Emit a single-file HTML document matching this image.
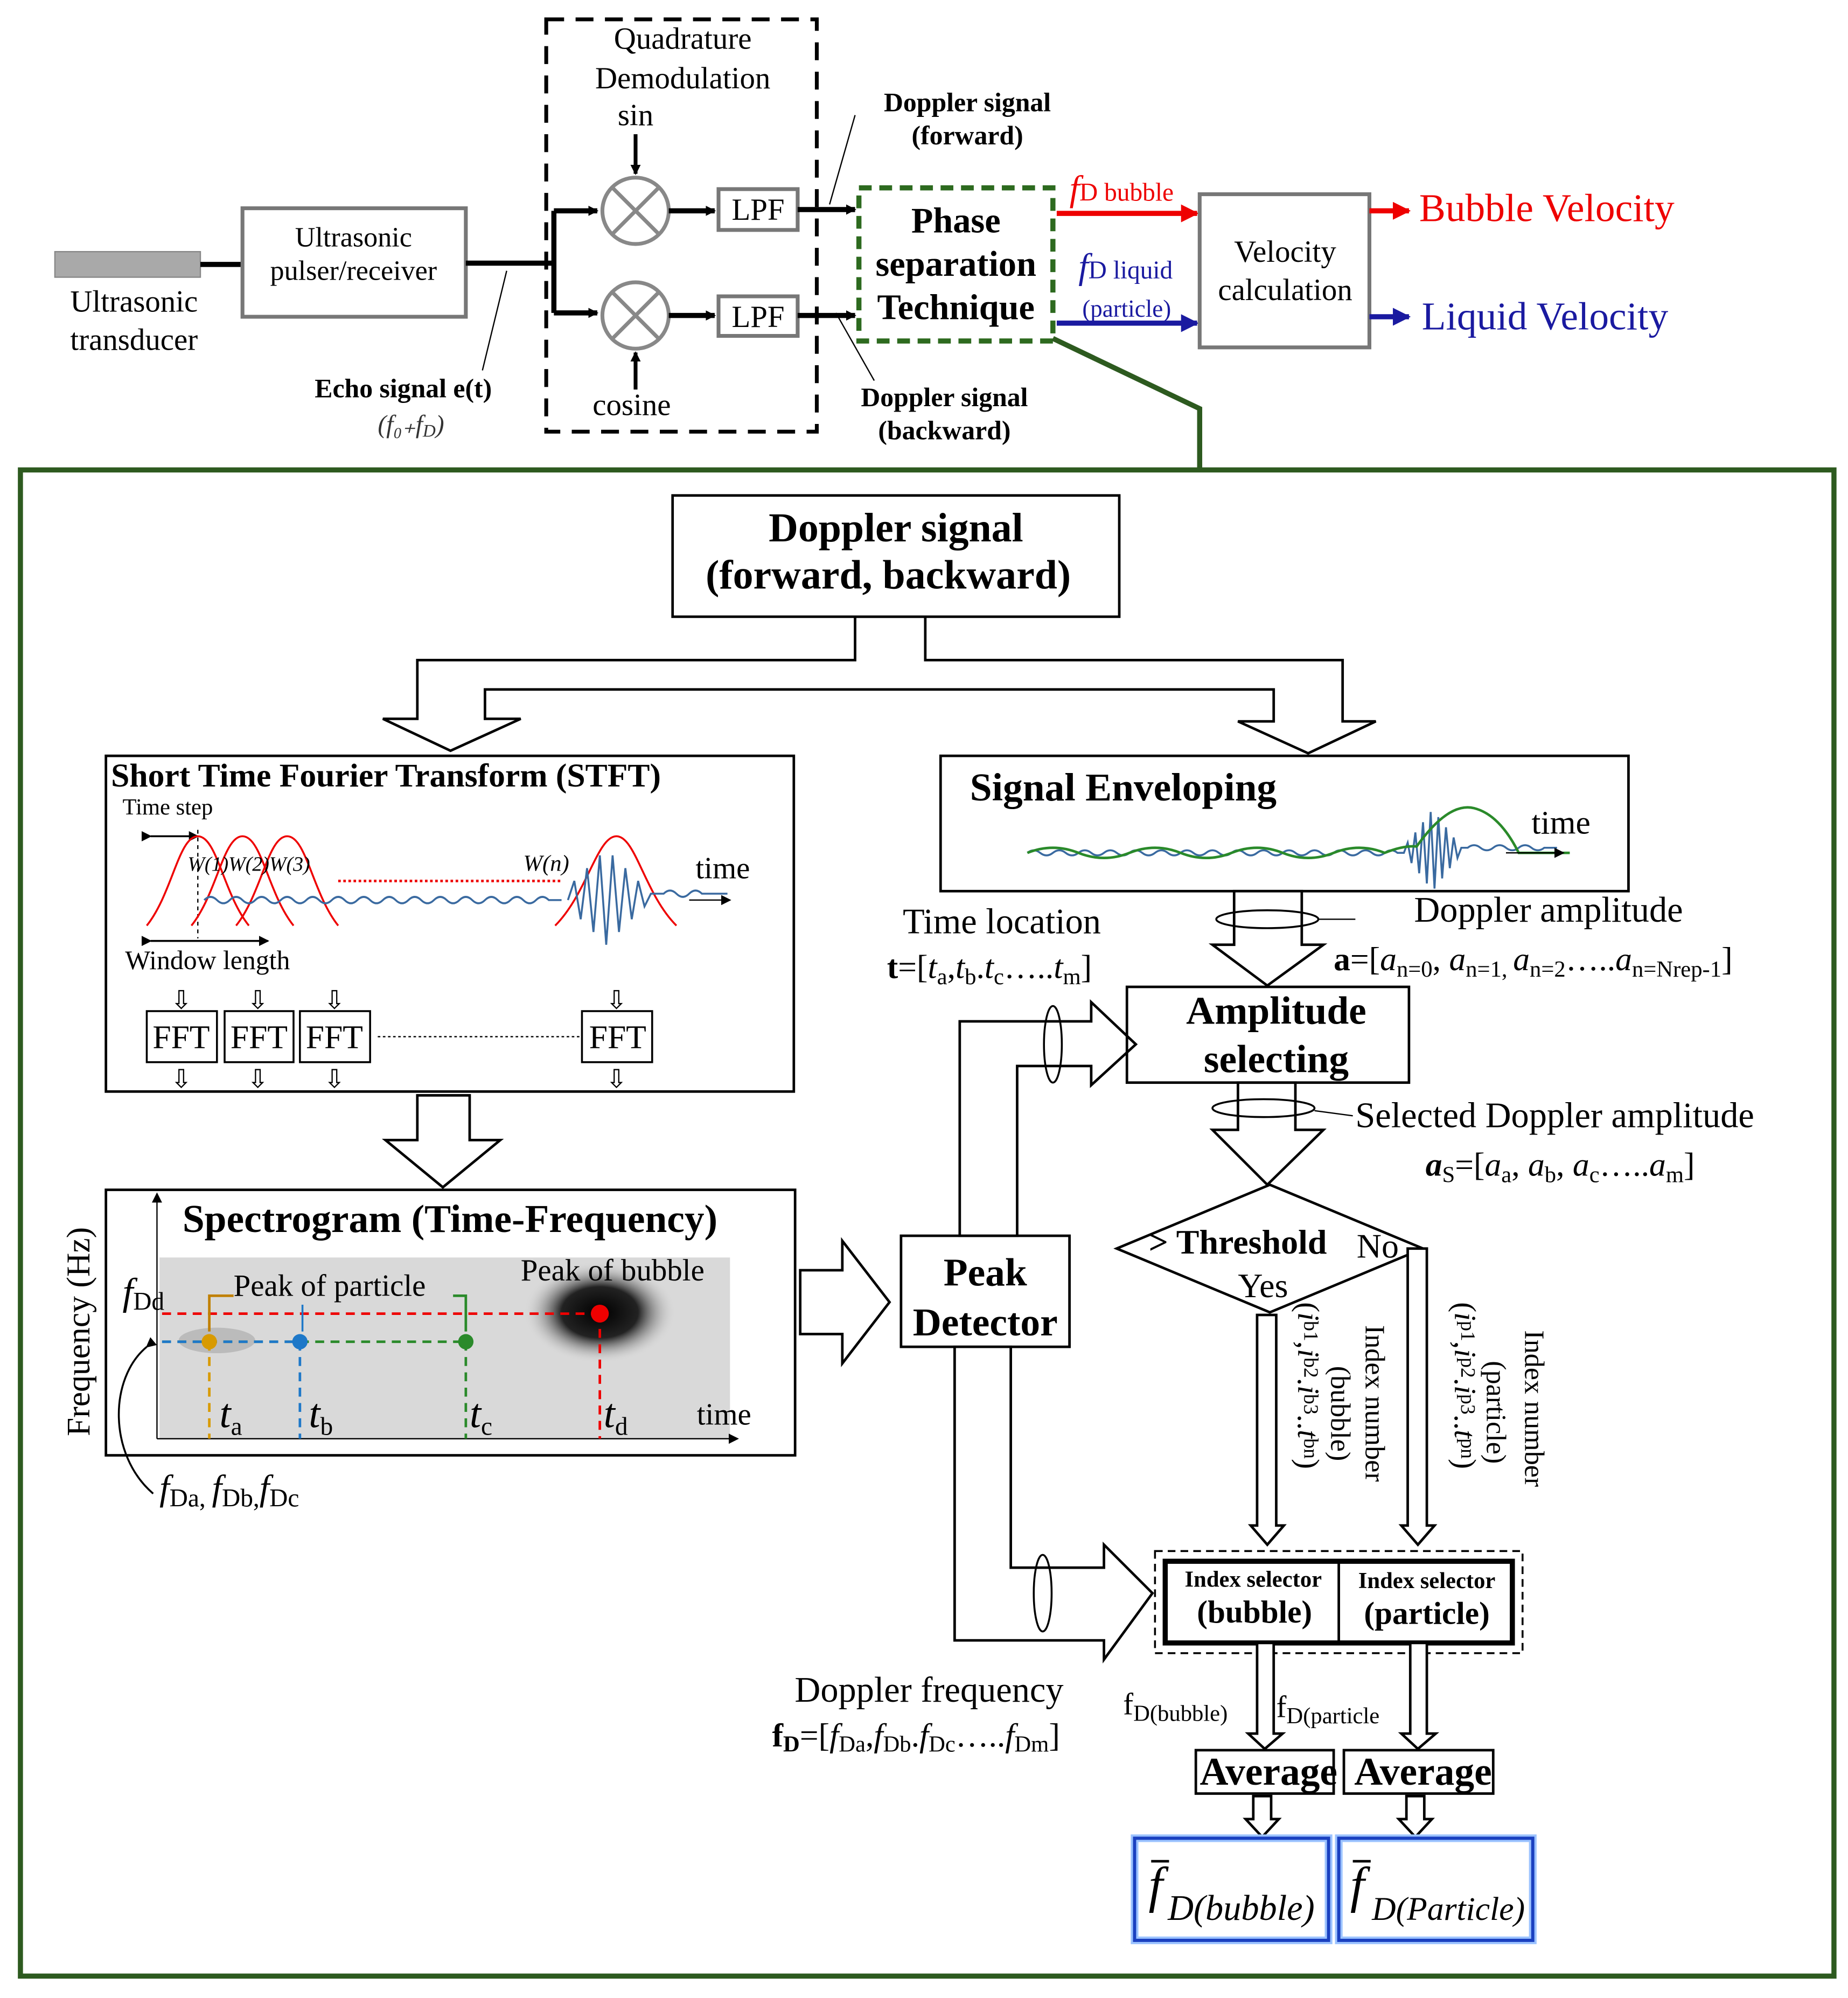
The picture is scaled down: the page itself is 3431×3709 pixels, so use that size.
<!DOCTYPE html>
<html><head><meta charset="utf-8"><style>
html,body{margin:0;padding:0;background:#fff}
svg{display:block}
text{font-family:"Liberation Serif",serif}
</style></head><body>
<svg width="3431" height="3709" viewBox="0 0 1448 1565" xmlns="http://www.w3.org/2000/svg">
<defs>
<marker id="ak" markerWidth="8" markerHeight="8" refX="7" refY="4" orient="auto" markerUnits="userSpaceOnUse"><path d="M0,0 L8,4 L0,8 z" fill="#000"/></marker>
<marker id="ar" viewBox="0 0 10 10" markerWidth="14" markerHeight="14" refX="9" refY="5" orient="auto" markerUnits="userSpaceOnUse"><path d="M0,0 L10,5 L0,10 z" fill="#e00"/></marker>
<marker id="ab" viewBox="0 0 10 10" markerWidth="14" markerHeight="14" refX="9" refY="5" orient="auto" markerUnits="userSpaceOnUse"><path d="M0,0 L10,5 L0,10 z" fill="#1a1aa0"/></marker>
<radialGradient id="blob"><stop offset="0" stop-color="#000"/><stop offset="0.5" stop-color="#222"/><stop offset="1" stop-color="#ddd" stop-opacity="0"/></radialGradient>
</defs>

<!-- TOP -->
<rect x="43" y="197" width="114" height="20" fill="#a9a9a9" stroke="#888"/>
<line x1="157" y1="207" x2="190" y2="207" stroke="#000" stroke-width="4"/>
<text x="105" y="244" font-size="24" text-anchor="middle">Ultrasonic</text>
<text x="105" y="274" font-size="24" text-anchor="middle">transducer</text>
<rect x="190" y="163" width="175" height="85" fill="none" stroke="#777" stroke-width="3"/>
<text x="277" y="193" font-size="22" text-anchor="middle">Ultrasonic</text>
<text x="277" y="219" font-size="22" text-anchor="middle">pulser/receiver</text>
<line x1="365" y1="206" x2="434" y2="206" stroke="#000" stroke-width="4"/>
<line x1="434" y1="165" x2="434" y2="245" stroke="#000" stroke-width="4"/>
<line x1="434" y1="165" x2="468" y2="165" stroke="#000" stroke-width="4" marker-end="url(#ak)"/>
<line x1="434" y1="245" x2="468" y2="245" stroke="#000" stroke-width="4" marker-end="url(#ak)"/>
<line x1="397" y1="212" x2="378" y2="290" stroke="#000" stroke-width="1"/>
<text x="316" y="311" font-size="21" font-weight="bold" text-anchor="middle">Echo signal e(t)</text>
<text x="322" y="339" font-size="20" font-style="italic" text-anchor="middle" fill="#333">(f₀₊f<tspan font-size="14" dy="3">D</tspan><tspan dy="-3">)</tspan></text>

<rect x="428" y="15" width="212" height="323" fill="none" stroke="#000" stroke-width="3" stroke-dasharray="14,9"/>
<text x="535" y="38" font-size="24" text-anchor="middle">Quadrature</text>
<text x="535" y="69" font-size="24" text-anchor="middle">Demodulation</text>
<text x="498" y="98" font-size="24" text-anchor="middle">sin</text>
<line x1="498" y1="105" x2="498" y2="136" stroke="#000" stroke-width="3" marker-end="url(#ak)"/>
<line x1="498" y1="305" x2="498" y2="276" stroke="#000" stroke-width="3" marker-end="url(#ak)"/>
<text x="495" y="325" font-size="24" text-anchor="middle">cosine</text>
<g stroke="#888" stroke-width="3" fill="#fff">
<circle cx="498" cy="165" r="26"/><circle cx="498" cy="247" r="26"/>
<line x1="480" y1="147" x2="516" y2="183"/><line x1="516" y1="147" x2="480" y2="183"/>
<line x1="480" y1="229" x2="516" y2="265"/><line x1="516" y1="229" x2="480" y2="265"/>
</g>
<line x1="524" y1="165" x2="560" y2="165" stroke="#000" stroke-width="4" marker-end="url(#ak)"/>
<line x1="524" y1="247" x2="560" y2="247" stroke="#000" stroke-width="4" marker-end="url(#ak)"/>
<rect x="563" y="148" width="62" height="32" fill="#fff" stroke="#777" stroke-width="3"/>
<rect x="563" y="232" width="62" height="31" fill="#fff" stroke="#777" stroke-width="3"/>
<text x="594" y="172" font-size="24" text-anchor="middle">LPF</text>
<text x="594" y="256" font-size="24" text-anchor="middle">LPF</text>
<line x1="625" y1="164" x2="670" y2="164" stroke="#000" stroke-width="4" marker-end="url(#ak)"/>
<line x1="625" y1="247" x2="670" y2="247" stroke="#000" stroke-width="4" marker-end="url(#ak)"/>
<line x1="670" y1="90" x2="650" y2="160" stroke="#000" stroke-width="1"/>
<line x1="655" y1="245" x2="685" y2="298" stroke="#000" stroke-width="1"/>
<text x="758" y="87" font-size="21" font-weight="bold" text-anchor="middle">Doppler signal</text>
<text x="758" y="113" font-size="21" font-weight="bold" text-anchor="middle">(forward)</text>
<text x="740" y="318" font-size="21" font-weight="bold" text-anchor="middle">Doppler signal</text>
<text x="740" y="344" font-size="21" font-weight="bold" text-anchor="middle">(backward)</text>

<rect x="673" y="147" width="152" height="120" fill="none" stroke="#2d6a1f" stroke-width="4" stroke-dasharray="10,6"/>
<text x="749" y="182" font-size="28" font-weight="bold" text-anchor="middle">Phase</text>
<text x="749" y="216" font-size="28" font-weight="bold" text-anchor="middle">separation</text>
<text x="749" y="250" font-size="28" font-weight="bold" text-anchor="middle">Technique</text>
<polyline points="825,265 940,320 940,368" fill="none" stroke="#2d5a1f" stroke-width="4"/>

<line x1="828" y1="167" x2="938" y2="167" stroke="#e00" stroke-width="4" marker-end="url(#ar)"/>
<text x="838" y="157" font-size="28" fill="#e00" font-style="italic">f<tspan font-size="20" font-style="normal">D bubble</tspan></text>
<line x1="828" y1="253" x2="938" y2="253" stroke="#1a1aa0" stroke-width="4" marker-end="url(#ab)"/>
<text x="845" y="218" font-size="28" fill="#1a1aa0" font-style="italic">f<tspan font-size="20" font-style="normal">D liquid</tspan></text>
<text x="848" y="248" font-size="19" fill="#1a1aa0">(particle)</text>
<rect x="940" y="152" width="133" height="120" fill="none" stroke="#777" stroke-width="3"/>
<text x="1007" y="205" font-size="24" text-anchor="middle">Velocity</text>
<text x="1007" y="235" font-size="24" text-anchor="middle">calculation</text>
<line x1="1073" y1="165" x2="1104" y2="165" stroke="#e00" stroke-width="4" marker-end="url(#ar)"/>
<line x1="1073" y1="248" x2="1104" y2="248" stroke="#1a1aa0" stroke-width="4" marker-end="url(#ab)"/>
<text x="1112" y="173" font-size="31" fill="#e00">Bubble Velocity</text>
<text x="1114" y="258" font-size="31" fill="#1a1aa0">Liquid Velocity</text>

<!-- big box -->
<rect x="16" y="368" width="1421" height="1180" fill="none" stroke="#2d5a1f" stroke-width="4"/>

<rect x="527" y="388" width="350" height="95" fill="none" stroke="#000" stroke-width="2"/>
<text x="702" y="424" font-size="32" font-weight="bold" text-anchor="middle">Doppler signal</text>
<text x="696" y="461" font-size="32" font-weight="bold" text-anchor="middle">(forward, backward)</text>

<polygon points="670,483 670,517 327,517 327,563 300,563 353,588 408,563 380,563 380,540 998,540 998,565 970,565 1025,590 1078,565 1052,565 1052,517 725,517 725,483" fill="#fff" stroke="#000" stroke-width="2"/>

<!-- STFT -->
<rect x="83" y="592" width="539" height="263" fill="none" stroke="#000" stroke-width="2"/>
<text x="87" y="616" font-size="26" font-weight="bold">Short Time Fourier Transform (STFT)</text>
<text x="96" y="638" font-size="18">Time step</text>
<line x1="118" y1="655" x2="155" y2="655" stroke="#000" stroke-width="1.5" marker-start="url(#ak)" marker-end="url(#ak)"/>
<line x1="155" y1="650" x2="155" y2="735" stroke="#000" stroke-dasharray="3,3"/>
<path d="M115,725 C135,700 140,655 155,655 C170,655 175,700 195,725" fill="none" stroke="#e00" stroke-width="1.5"/>
<path d="M150,725 C170,700 175,655 190,655 C205,655 210,700 230,725" fill="none" stroke="#e00" stroke-width="1.5"/>
<path d="M185,725 C205,700 210,655 225,655 C240,655 245,700 265,725" fill="none" stroke="#e00" stroke-width="1.5"/>
<path d="M435,725 C460,700 468,655 483,655 C498,655 505,700 530,725" fill="none" stroke="#e00" stroke-width="1.5"/>
<text x="147" y="682" font-size="16" font-style="italic">W(1)W(2)W(3)</text>
<text x="410" y="682" font-size="18" font-style="italic">W(n)</text>
<line x1="265" y1="690" x2="440" y2="690" stroke="#e00" stroke-width="2" stroke-dasharray="2,2"/>
<path d="M160,705 q5,-5 10,0 t10,0 t10,0 t10,0 t10,0 t10,0 t10,0 t10,0 t10,0 t10,0 t10,0 t10,0 t10,0 t10,0 t10,0 t10,0 t10,0 t10,0 t10,0 t10,0 t10,0 t10,0 t10,0 t10,0 t10,0 t10,0 t10,0 l10,0" fill="none" stroke="#3a6aa0" stroke-width="1.5"/>
<path d="M445,705 l5,-15 5,30 5,-40 5,50 5,-60 5,70 5,-70 5,60 5,-50 5,40 5,-30 5,20 5,-10 l10,0 q5,-5 10,0 t10,0 t10,0 l20,0" fill="none" stroke="#3a6aa0" stroke-width="1.5"/>
<line x1="540" y1="705" x2="572" y2="705" stroke="#000" marker-end="url(#ak)"/>
<text x="545" y="688" font-size="24">time</text>
<line x1="118" y1="737" x2="210" y2="737" stroke="#000" stroke-width="1.5" marker-start="url(#ak)" marker-end="url(#ak)"/>
<text x="98" y="759" font-size="21">Window length</text>
<g stroke="#000" fill="none" stroke-width="1.5">
<rect x="115" y="792" width="55" height="40"/><rect x="176" y="792" width="54" height="40"/><rect x="235" y="792" width="55" height="40"/><rect x="456" y="792" width="55" height="40"/>
</g>
<g font-size="26" text-anchor="middle"><text x="142" y="821">FFT</text><text x="203" y="821">FFT</text><text x="262" y="821">FFT</text><text x="484" y="821">FFT</text></g>
<line x1="296" y1="812" x2="454" y2="812" stroke="#000" stroke-dasharray="2,2"/>
<g font-size="20" text-anchor="middle"><text x="142" y="790">⇩</text><text x="202" y="790">⇩</text><text x="262" y="790">⇩</text><text x="483" y="790">⇩</text>
<text x="142" y="852">⇩</text><text x="202" y="852">⇩</text><text x="262" y="852">⇩</text><text x="483" y="852">⇩</text></g>

<polygon points="327,858 368,858 368,893 392,893 347,930 302,893 327,893" fill="#fff" stroke="#000" stroke-width="2"/>

<!-- Spectrogram -->
<rect x="83" y="932" width="540" height="208" fill="none" stroke="#000" stroke-width="2"/>
<rect x="125" y="985" width="447" height="142" fill="#d9d9d9"/>
<ellipse cx="470" cy="1028" rx="60" ry="40" fill="url(#blob)"/>
<ellipse cx="170" cy="1050" rx="30" ry="10" fill="#bbb"/>
<line x1="123" y1="1127" x2="123" y2="935" stroke="#000" marker-end="url(#ak)"/>
<line x1="123" y1="1127" x2="578" y2="1127" stroke="#000" marker-end="url(#ak)"/>
<text x="143" y="965" font-size="31" font-weight="bold">Spectrogram (Time-Frequency)</text>
<text transform="translate(70,1125) rotate(-90)" font-size="26">Frequency (Hz)</text>
<text x="183" y="1015" font-size="24">Peak of particle</text>
<text x="408" y="1003" font-size="24">Peak of bubble</text>
<text x="96" y="1022" font-size="30" font-style="italic">f<tspan font-size="20" font-style="normal" dy="4">Dd</tspan></text>
<line x1="127" y1="1029" x2="470" y2="1029" stroke="#e00" stroke-width="2" stroke-dasharray="7,5"/>
<line x1="127" y1="1051" x2="365" y2="1051" stroke="#2a8a2a" stroke-width="2" stroke-dasharray="7,5"/>
<line x1="127" y1="1051" x2="235" y2="1051" stroke="#1e78c8" stroke-width="2" stroke-dasharray="7,5"/>
<line x1="164" y1="1051" x2="164" y2="1127" stroke="#d89a00" stroke-width="2" stroke-dasharray="7,5"/>
<line x1="235" y1="1051" x2="235" y2="1127" stroke="#1e78c8" stroke-width="2" stroke-dasharray="7,5"/>
<line x1="365" y1="1051" x2="365" y2="1127" stroke="#2a8a2a" stroke-width="2" stroke-dasharray="7,5"/>
<line x1="470" y1="1029" x2="470" y2="1127" stroke="#e00" stroke-width="2" stroke-dasharray="7,5"/>
<polyline points="164,1043 164,1015 183,1015" fill="none" stroke="#c08000" stroke-width="2"/>
<polyline points="355,1015 365,1015 365,1043" fill="none" stroke="#2a8a2a" stroke-width="2"/>
<line x1="237" y1="1022" x2="237" y2="1043" stroke="#1e78c8" stroke-width="1.5"/>
<circle cx="164" cy="1051" r="6" fill="#d89a00"/><circle cx="235" cy="1051" r="6" fill="#1e78c8"/><circle cx="365" cy="1051" r="6" fill="#2a8a2a"/><circle cx="470" cy="1029" r="7" fill="#e00"/>
<text x="172" y="1118" font-size="32" font-style="italic">t<tspan font-size="20" font-style="normal" dy="6">a</tspan></text>
<text x="242" y="1118" font-size="32" font-style="italic">t<tspan font-size="20" font-style="normal" dy="6">b</tspan></text>
<text x="368" y="1118" font-size="32" font-style="italic">t<tspan font-size="20" font-style="normal" dy="6">c</tspan></text>
<text x="473" y="1118" font-size="32" font-style="italic">t<tspan font-size="20" font-style="normal" dy="6">d</tspan></text>
<text x="546" y="1116" font-size="24">time</text>
<path d="M115,1055 C85,1080 85,1140 120,1170" fill="none" stroke="#000" stroke-width="1.5" marker-start="url(#ak)"/>
<text x="125" y="1175" font-size="28" font-style="italic">f<tspan font-size="20" font-style="normal" dy="5">Da, </tspan><tspan dy="-5">f</tspan><tspan font-size="20" font-style="normal" dy="5">Db,</tspan><tspan dy="-5">f</tspan><tspan font-size="20" font-style="normal" dy="5">Dc</tspan></text>

<polygon points="627,995 660,995 660,972 697,1020 660,1068 660,1045 627,1045" fill="#fff" stroke="#000" stroke-width="2"/>

<!-- Peak detector -->
<rect x="706" y="968" width="132" height="87" fill="none" stroke="#000" stroke-width="2"/>
<text x="772" y="1007" font-size="31" font-weight="bold" text-anchor="middle">Peak</text>
<text x="772" y="1046" font-size="31" font-weight="bold" text-anchor="middle">Detector</text>
<polygon points="752,968 752,800 855,800 855,785 890,818 855,850 855,835 797,835 797,968" fill="#fff" stroke="#000" stroke-width="2"/>
<ellipse cx="825" cy="818" rx="7" ry="30" fill="none" stroke="#000" stroke-width="1.5"/>
<polygon points="748,1055 748,1285 865,1285 865,1300 903,1248 865,1210 865,1228 792,1228 792,1055" fill="#fff" stroke="#000" stroke-width="2"/>
<ellipse cx="817" cy="1248" rx="7" ry="30" fill="none" stroke="#000" stroke-width="1.5"/>
<text x="728" y="1333" font-size="28" text-anchor="middle">Doppler frequency</text>
<text x="605" y="1368" font-size="26"><tspan font-weight="bold">f</tspan><tspan font-size="18" font-weight="bold" dy="4">D</tspan><tspan dy="-4">=[</tspan><tspan font-style="italic">f</tspan><tspan font-size="18" dy="4">Da</tspan><tspan dy="-4">,</tspan><tspan font-style="italic">f</tspan><tspan font-size="18" dy="4">Db</tspan><tspan dy="-4">.</tspan><tspan font-style="italic">f</tspan><tspan font-size="18" dy="4">Dc</tspan><tspan dy="-4">…..</tspan><tspan font-style="italic">f</tspan><tspan font-size="18" dy="4">Dm</tspan><tspan dy="-4">]</tspan></text>

<!-- Signal enveloping -->
<rect x="737" y="592" width="539" height="106" fill="none" stroke="#000" stroke-width="2"/>
<text x="760" y="627" font-size="31" font-weight="bold">Signal Enveloping</text>
<text x="1200" y="653" font-size="26">time</text>
<path d="M805,668 q5,-4 10,0 t10,0 t10,0 t10,0 t10,0 t10,0 t10,0 t10,0 t10,0 t10,0 t10,0 t10,0 t10,0 t10,0 t10,0 t10,0 t10,0 t10,0 t10,0 t10,0 t10,0 t10,0 t10,0 t10,0 t10,0 t10,0 t10,0 t10,0 t10,0 l5,0 l3,-8 3,16 3,-24 3,32 3,-40 3,48 3,-56 3,60 3,-56 3,48 3,-40 3,32 3,-24 3,16 3,-8 l5,0 q5,-4 10,0 t10,0 t10,0 t10,0 t10,0 t10,0 l10,0" fill="none" stroke="#3a6aa0" stroke-width="1.5"/>
<path d="M805,668 q20,-8 40,0 t40,0 t40,0 t40,0 t40,0 t40,0 t40,0 q15,-6 25,-5 q25,-35 45,-30 q20,5 35,35 l40,0" fill="none" stroke="#2a8a2a" stroke-width="2"/>
<line x1="1180" y1="668" x2="1225" y2="668" stroke="#000" marker-end="url(#ak)"/>

<polygon points="967,698 1020,698 1020,740 1037,740 993,772 950,740 967,740" fill="#fff" stroke="#000" stroke-width="2"/>
<ellipse cx="993" cy="720" rx="40" ry="7" fill="none" stroke="#000" stroke-width="1.5"/>
<line x1="1033" y1="720" x2="1062" y2="720" stroke="#000"/>
<text x="1108" y="722" font-size="28">Doppler amplitude</text>
<text x="1045" y="760" font-size="26"><tspan font-weight="bold">a</tspan>=[<tspan font-style="italic">a</tspan><tspan font-size="18" dy="5">n=0</tspan><tspan dy="-5">, </tspan><tspan font-style="italic">a</tspan><tspan font-size="18" dy="5">n=1, </tspan><tspan dy="-5" font-style="italic">a</tspan><tspan font-size="18" dy="5">n=2</tspan><tspan dy="-5">…..</tspan><tspan font-style="italic">a</tspan><tspan font-size="18" dy="5">n=Nrep-1</tspan><tspan dy="-5">]</tspan></text>
<text x="785" y="731" font-size="28" text-anchor="middle">Time location</text>
<text x="695" y="766" font-size="26"><tspan font-weight="bold">t</tspan>=[<tspan font-style="italic">t</tspan><tspan font-size="18" dy="5">a</tspan><tspan dy="-5">,</tspan><tspan font-style="italic">t</tspan><tspan font-size="18" dy="5">b</tspan><tspan dy="-5">.</tspan><tspan font-style="italic">t</tspan><tspan font-size="18" dy="5">c</tspan><tspan dy="-5">…..</tspan><tspan font-style="italic">t</tspan><tspan font-size="18" dy="5">m</tspan><tspan dy="-5">]</tspan></text>

<rect x="883" y="773" width="221" height="75" fill="none" stroke="#000" stroke-width="2"/>
<text x="1000" y="802" font-size="31" font-weight="bold" text-anchor="middle">Amplitude</text>
<text x="1000" y="840" font-size="31" font-weight="bold" text-anchor="middle">selecting</text>

<polygon points="970,848 1015,848 1015,885 1037,885 993,928 950,885 970,885" fill="#fff" stroke="#000" stroke-width="2"/>
<ellipse cx="990" cy="868" rx="40" ry="7" fill="none" stroke="#000" stroke-width="1.5"/>
<line x1="1030" y1="870" x2="1060" y2="874" stroke="#000"/>
<text x="1062" y="883" font-size="28">Selected Doppler amplitude</text>
<text x="1117" y="921" font-size="26"><tspan font-weight="bold" font-style="italic">a</tspan><tspan font-size="18" dy="5">S</tspan><tspan dy="-5">=[</tspan><tspan font-style="italic">a</tspan><tspan font-size="18" dy="5">a</tspan><tspan dy="-5">, </tspan><tspan font-style="italic">a</tspan><tspan font-size="18" dy="5">b</tspan><tspan dy="-5">, </tspan><tspan font-style="italic">a</tspan><tspan font-size="18" dy="5">c</tspan><tspan dy="-5">…..</tspan><tspan font-style="italic">a</tspan><tspan font-size="18" dy="5">m</tspan><tspan dy="-5">]</tspan></text>

<!-- diamond -->
<polygon points="875,978 995,928 1115,978 995,1028" fill="#fff" stroke="#000" stroke-width="2"/>
<text x="900" y="982" font-size="27" font-weight="bold">&gt; Threshold</text>
<text x="1063" y="985" font-size="27">No</text>
<text x="970" y="1016" font-size="27">Yes</text>
<polygon points="985,1030 1000,1030 1000,1195 1006,1195 993,1210 980,1195 985,1195" fill="#fff" stroke="#000" stroke-width="2"/>
<polygon points="1103,978 1118,978 1118,1195 1124,1195 1111,1210 1098,1195 1103,1195" fill="#fff" stroke="#000" stroke-width="2"/>
<text transform="translate(1017,1020) rotate(90)" font-size="24">(<tspan font-style="italic">i</tspan><tspan font-size="16" dy="-5">b1</tspan><tspan dy="5">,</tspan><tspan font-style="italic">i</tspan><tspan font-size="16" dy="-5">b2</tspan><tspan dy="5">.</tspan><tspan font-style="italic">i</tspan><tspan font-size="16" dy="-5">b3</tspan><tspan dy="5">..</tspan><tspan font-style="italic">t</tspan><tspan font-size="16" dy="-5">bn</tspan><tspan dy="5">)</tspan></text>
<text transform="translate(1070,1038) rotate(90)" font-size="22">Index number</text>
<text transform="translate(1043,1070) rotate(90)" font-size="22">(bubble)</text>
<text transform="translate(1140,1020) rotate(90)" font-size="24">(<tspan font-style="italic">i</tspan><tspan font-size="16" dy="-5">p1</tspan><tspan dy="5">,</tspan><tspan font-style="italic">i</tspan><tspan font-size="16" dy="-5">p2</tspan><tspan dy="5">.</tspan><tspan font-style="italic">i</tspan><tspan font-size="16" dy="-5">p3</tspan><tspan dy="5">..</tspan><tspan font-style="italic">t</tspan><tspan font-size="16" dy="-5">pn</tspan><tspan dy="5">)</tspan></text>
<text transform="translate(1195,1042) rotate(90)" font-size="22">Index number</text>
<text transform="translate(1165,1066) rotate(90)" font-size="22">(particle)</text>

<!-- index selectors -->
<rect x="905" y="1215" width="288" height="80" fill="none" stroke="#000" stroke-width="1.5" stroke-dasharray="6,4"/>
<rect x="913" y="1223" width="272" height="64" fill="none" stroke="#000" stroke-width="4"/>
<line x1="1049" y1="1223" x2="1049" y2="1287" stroke="#000" stroke-width="2"/>
<text x="982" y="1243" font-size="18" font-weight="bold" text-anchor="middle">Index selector</text>
<text x="983" y="1271" font-size="25" font-weight="bold" text-anchor="middle">(bubble)</text>
<text x="1118" y="1244" font-size="18" font-weight="bold" text-anchor="middle">Index selector</text>
<text x="1118" y="1272" font-size="25" font-weight="bold" text-anchor="middle">(particle)</text>

<polygon points="985,1287 998,1287 998,1358 1005,1358 991,1370 978,1358 985,1358" fill="#fff" stroke="#000" stroke-width="2"/>
<polygon points="1105,1287 1118,1287 1118,1358 1125,1358 1111,1370 1098,1358 1105,1358" fill="#fff" stroke="#000" stroke-width="2"/>
<text x="880" y="1343" font-size="24">f<tspan font-size="18" dy="5">D(bubble)</tspan></text>
<text x="1000" y="1345" font-size="24">f<tspan font-size="18" dy="5">D(particle</tspan></text>

<rect x="937" y="1371" width="108" height="34" fill="#fff" stroke="#000" stroke-width="2"/>
<rect x="1053" y="1371" width="117" height="34" fill="#fff" stroke="#000" stroke-width="2"/>
<text x="994" y="1398" font-size="31" font-weight="bold" text-anchor="middle">Average</text>
<text x="1115" y="1398" font-size="31" font-weight="bold" text-anchor="middle">Average</text>
<polygon points="982,1407 996,1407 996,1425 1002,1425 989,1439 976,1425 982,1425" fill="#fff" stroke="#000" stroke-width="2"/>
<polygon points="1102,1407 1116,1407 1116,1425 1122,1425 1109,1439 1096,1425 1102,1425" fill="#fff" stroke="#000" stroke-width="2"/>

<rect x="889" y="1440" width="152" height="80" fill="none" stroke="#9cc3ff" stroke-width="6"/>
<rect x="889" y="1440" width="152" height="80" fill="none" stroke="#1a40c0" stroke-width="2.5"/>
<rect x="1049" y="1440" width="152" height="80" fill="none" stroke="#9cc3ff" stroke-width="6"/>
<rect x="1049" y="1440" width="152" height="80" fill="none" stroke="#1a40c0" stroke-width="2.5"/>
<text x="900" y="1490" font-size="40" font-style="italic">f</text><line x1="902" y1="1458" x2="916" y2="1458" stroke="#000" stroke-width="2"/>
<text x="915" y="1504" font-size="28" font-style="italic">D(bubble)</text>
<text x="1058" y="1490" font-size="40" font-style="italic">f</text><line x1="1060" y1="1458" x2="1074" y2="1458" stroke="#000" stroke-width="2"/>
<text x="1075" y="1504" font-size="26" font-style="italic">D(Particle)</text>
</svg>
</body></html>
